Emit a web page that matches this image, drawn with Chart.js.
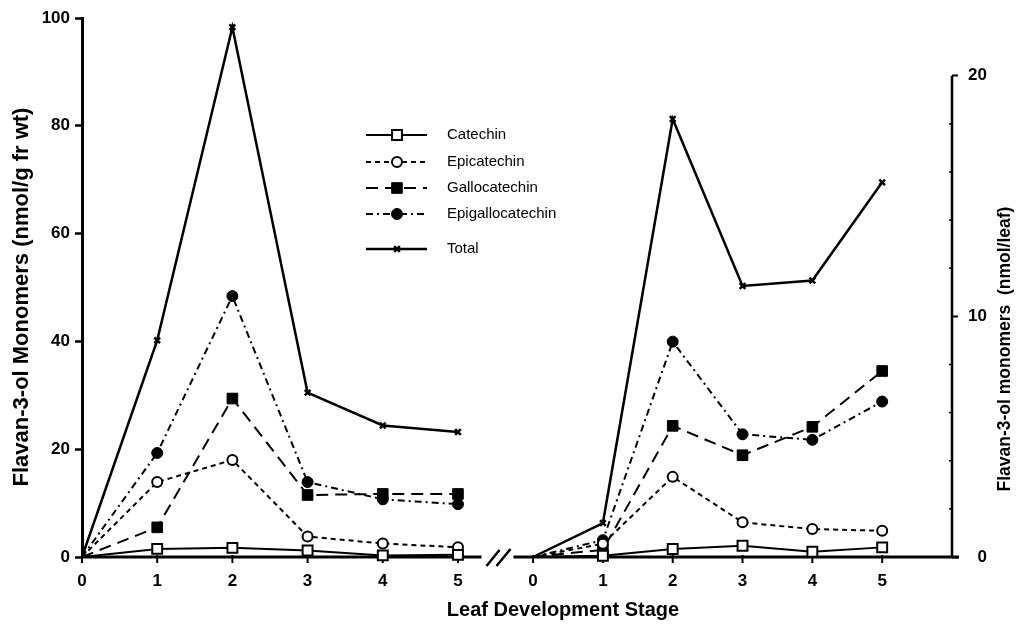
<!DOCTYPE html>
<html><head><meta charset="utf-8">
<script src="https://cdn.jsdelivr.net/npm/chart.js@4.4.1/dist/chart.umd.min.js"></script>
<style>html,body{margin:0;padding:0;background:#fff}#wrap{width:1018px;height:628px}</style>
</head><body><div id="wrap"><canvas id="c" width="1018" height="628"></canvas></div>
<script>
// ---- data ----
const stages = [0, 1, 2, 3, 4, 5];
const seriesNames = ['Catechin', 'Epicatechin', 'Gallocatechin', 'Epigallocatechin', 'Total'];
// nmol/g fr wt (left group, left axis)
const catechinFw        = [0, 1.5, 1.7, 1.2, 0.3, 0.4];
const epicatechinFw     = [0, 13.9, 18.0, 3.8, 2.5, 1.8];
const gallocatechinFw   = [0, 5.5, 29.4, 11.5, 11.7, 11.7];
const epigallocatechinFw= [0, 19.3, 48.4, 13.9, 10.7, 9.8];
const totalFw           = [0, 40.2, 98.3, 30.5, 24.4, 23.2];
// nmol/leaf (right group, right axis)
const catechinLeaf        = [0, 0.05, 0.33, 0.47, 0.22, 0.40];
const epicatechinLeaf     = [0, 0.55, 3.33, 1.44, 1.16, 1.09];
const gallocatechinLeaf   = [0, 0.30, 5.45, 4.23, 5.41, 7.73];
const epigallocatechinLeaf= [0, 0.70, 8.95, 5.10, 4.87, 6.46];
const totalLeaf           = [0, 1.41, 18.2, 11.26, 11.49, 15.57];
// ticks / labels
const leftTicks = [0, 20, 40, 60, 80, 100];
const rightTicks = [0, 10, 20];
const rightMinorTicks = [2, 4, 6, 8, 12, 14, 16, 18];
const xTitle = 'Leaf Development Stage';
const yTitleLeft = 'Flavan-3-ol Monomers (nmol/g fr wt)';
const yTitleRight = 'Flavan-3-ol monomers  (nmol/leaf)';

const fwData = [catechinFw, epicatechinFw, gallocatechinFw, epigallocatechinFw, totalFw];
const leafData = [catechinLeaf, epicatechinLeaf, gallocatechinLeaf, epigallocatechinLeaf, totalLeaf];

const FONT = '"Liberation Sans", Arial, Helvetica, sans-serif';
const styles = [
  {dash: [], point: 'rect', fill: '#fff', r: 7, pw: 2, width: 2},
  {dash: [5, 4], point: 'circle', fill: '#fff', r: 5, pw: 2, width: 2},
  {dash: [12, 7], point: 'rect', fill: '#000', r: 7.5, pw: 1, width: 2},
  {dash: [7, 4, 2, 4], point: 'circle', fill: '#000', r: 5.5, pw: 1, width: 2},
  {dash: [], point: 'crossRot', fill: '#000', r: 4, pw: 2.5, width: 2.5}
];

function makeDs(i, arr, xId, yId) {
  const st = styles[i];
  return {
    label: seriesNames[i],
    data: stages.map((s, k) => ({x: s, y: arr[k]})),
    xAxisID: xId, yAxisID: yId,
    borderColor: '#000', borderWidth: st.width, borderDash: st.dash,
    borderCapStyle: 'butt', borderJoinStyle: 'miter',
    pointStyle: st.point,
    pointRadius: ctx => ctx.dataIndex === 0 ? 0 : st.r,
    pointHoverRadius: ctx => ctx.dataIndex === 0 ? 0 : st.r,
    pointBackgroundColor: st.fill, pointBorderColor: '#000', pointBorderWidth: st.pw,
    tension: 0, fill: false, clip: false
  };
}
const datasets = [];
for (let i = 0; i < seriesNames.length; i++) {
  datasets.push(makeDs(i, fwData[i], 'x', 'y'));
  datasets.push(makeDs(i, leafData[i], 'x2', 'y2'));
}

const legendRows = [135, 162, 188, 214, 249];

const decorPlugin = {
  id: 'decor',
  beforeDatasetsDraw(chart) {
    const {ctx, chartArea} = chart;
    const xs = chart.scales.x, x2 = chart.scales.x2, ys = chart.scales.y, y2 = chart.scales.y2;
    const y0 = ys.getPixelForValue(0);
    ctx.save();
    ctx.strokeStyle = '#000'; ctx.fillStyle = '#000';
    ctx.lineWidth = 3; ctx.lineCap = 'butt';
    const leftEnd = xs.getPixelForValue(stages[stages.length - 1]);
    const rightStart = x2.getPixelForValue(stages[0]);
    const mid = (leftEnd + rightStart) / 2;
    // x axis segments
    ctx.beginPath();
    ctx.moveTo(chartArea.left, y0); ctx.lineTo(mid - 14, y0);
    ctx.moveTo(mid + 18, y0); ctx.lineTo(chartArea.right + 7, y0);
    ctx.stroke();
    // break marks
    ctx.lineWidth = 2.5;
    ctx.beginPath();
    ctx.moveTo(mid - 9, y0 + 9); ctx.lineTo(mid + 4, y0 - 7);
    ctx.moveTo(mid + 1, y0 + 9); ctx.lineTo(mid + 15, y0 - 8);
    ctx.stroke();
    // x ticks and labels
    ctx.lineWidth = 2;
    ctx.font = 'bold 17px ' + FONT;
    ctx.textAlign = 'center'; ctx.textBaseline = 'middle';
    [xs, x2].forEach(sc => {
      stages.forEach(s => {
        const px = sc.getPixelForValue(s);
        ctx.beginPath(); ctx.moveTo(px, y0 - 2); ctx.lineTo(px, y0 + 6); ctx.stroke();
        ctx.fillText(String(s), px, y0 + 24);
      });
    });
    // right axis line (0..20) with minor ticks
    const rx = chartArea.right;
    const yTop = y2.getPixelForValue(rightTicks[rightTicks.length - 1]);
    ctx.lineWidth = 2.5;
    ctx.beginPath(); ctx.moveTo(rx, y0); ctx.lineTo(rx, yTop); ctx.stroke();
    ctx.lineWidth = 1.5;
    rightMinorTicks.forEach(v => {
      const py = y2.getPixelForValue(v);
      ctx.beginPath(); ctx.moveTo(rx - 3, py); ctx.lineTo(rx, py); ctx.stroke();
    });
    // titles
    ctx.font = 'bold 20px ' + FONT;
    ctx.textAlign = 'center'; ctx.textBaseline = 'middle';
    ctx.fillText(xTitle, 563, 610);
    ctx.save();
    ctx.translate(22, 297); ctx.rotate(-Math.PI / 2);
    ctx.font = 'bold 22px ' + FONT;
    ctx.fillText(yTitleLeft, 0, 0);
    ctx.restore();
    ctx.save();
    ctx.translate(1005, 349); ctx.rotate(-Math.PI / 2);
    ctx.font = 'bold 17.5px ' + FONT;
    ctx.fillText(yTitleRight, 0, 0);
    ctx.restore();
    ctx.restore();
  },
  afterDatasetsDraw(chart) {
    const {ctx} = chart;
    ctx.save();
    seriesNames.forEach((name, i) => {
      const st = styles[i];
      const y = legendRows[i];
      ctx.strokeStyle = '#000'; ctx.lineWidth = st.width;
      ctx.setLineDash(st.dash);
      ctx.beginPath(); ctx.moveTo(366, y); ctx.lineTo(427, y); ctx.stroke();
      ctx.setLineDash([]);
      ctx.fillStyle = st.fill; ctx.lineWidth = st.pw;
      Chart.helpers.drawPoint(ctx, {pointStyle: st.point, rotation: 0, radius: st.r, borderWidth: st.pw}, 397, y);
      ctx.fillStyle = '#000';
      ctx.font = '15px ' + FONT;
      ctx.textAlign = 'left'; ctx.textBaseline = 'middle';
      ctx.fillText(name, 447, y);
    });
    ctx.restore();
  }
};

new Chart(document.getElementById('c'), {
  type: 'line',
  data: {datasets},
  plugins: [decorPlugin],
  options: {
    responsive: false, animation: false, devicePixelRatio: 1,
    layout: {padding: {top: 18, bottom: 71, left: 0, right: 31}},
    plugins: {legend: {display: false}, tooltip: {enabled: false}},
    scales: {
      x: {type: 'linear', display: false, min: 0, max: 11.57},
      x2: {type: 'linear', display: false, min: -6.46, max: 6.0},
      y: {
        position: 'left', min: 0, max: 100,
        afterBuildTicks: s => { s.ticks = leftTicks.map(v => ({value: v})); },
        grid: {drawOnChartArea: false, drawTicks: true, tickLength: 7, tickWidth: 2.5, color: '#000'},
        border: {display: true, width: 3, color: '#000'},
        ticks: {color: '#000', padding: 5, font: {family: FONT, size: 17, weight: 'bold'}},
        afterFit: s => { s.width = 82; }
      },
      y2: {
        position: 'right', min: 0, max: 22.4,
        afterBuildTicks: s => { s.ticks = rightTicks.map(v => ({value: v})); },
        grid: {drawOnChartArea: false, drawTicks: true, tickLength: 6, tickWidth: 2, color: '#000'},
        border: {display: false},
        ticks: {color: '#000', padding: 6, crossAlign: 'far', font: {family: FONT, size: 17, weight: 'bold'}},
        afterFit: s => { s.width = 35; }
      }
    }
  }
});
</script>
</body></html>
